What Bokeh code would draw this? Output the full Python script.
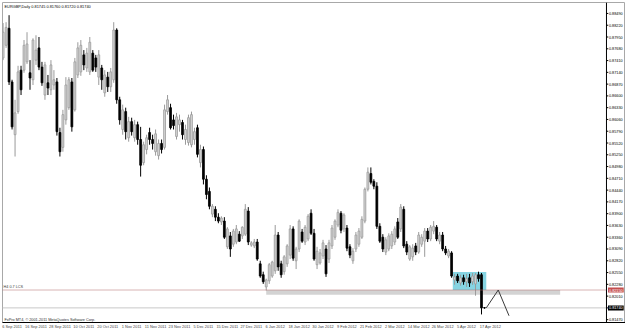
from bokeh.plotting import figure
from bokeh.models import (ColumnDataSource, Range1d, LinearAxis, FixedTicker,
                          Label, BoxAnnotation)
from bokeh.core.properties import value
from bokeh.embed import file_html
from bokeh.resources import INLINE

# EURGBP daily candles, 6 Sep 2011 .. 18 Apr 2012 (bar index 0..161)
OPEN = [0.8747, 0.8776, 0.8815, 0.8692, 0.8571, 0.8624, 0.8719, 0.8719, 0.8738, 0.8713,
        0.8697, 0.8742, 0.8770, 0.8726, 0.8662, 0.8690, 0.8674, 0.8685, 0.8692, 0.8576,
        0.8542, 0.8605, 0.8633, 0.8692, 0.8628, 0.8708, 0.8715, 0.8754, 0.8724, 0.8715,
        0.8758, 0.8747, 0.8703, 0.8724, 0.8667, 0.8703, 0.8681, 0.8697, 0.8811, 0.8651,
        0.8583, 0.8624, 0.8564, 0.8601, 0.8564, 0.8594, 0.8560, 0.8507, 0.8537, 0.8576,
        0.8560, 0.8532, 0.8523, 0.8551, 0.8542, 0.8624, 0.8633, 0.8605, 0.8567, 0.8594,
        0.8599, 0.8560, 0.8553, 0.8548, 0.8560, 0.8587, 0.8507, 0.8537, 0.8469, 0.8441,
        0.8389, 0.8400, 0.8382, 0.8371, 0.8373, 0.8314, 0.8339, 0.8320, 0.8325, 0.8343,
        0.8339, 0.8343, 0.8396, 0.8318, 0.8316, 0.8325, 0.8275, 0.8250, 0.8222, 0.8236,
        0.8247, 0.8259, 0.8341, 0.8275, 0.8257, 0.8275, 0.8295, 0.8355, 0.8282, 0.8309,
        0.8348, 0.8325, 0.8332, 0.8391, 0.8345, 0.8273, 0.8277, 0.8293, 0.8309, 0.8286,
        0.8316, 0.8336, 0.8364, 0.8391, 0.8355, 0.8357, 0.8314, 0.8282, 0.8309, 0.8320,
        0.8336, 0.8373, 0.8446, 0.8482, 0.8464, 0.8453, 0.8361, 0.8336, 0.8302, 0.8309,
        0.8316, 0.8325, 0.8371, 0.8355, 0.8400, 0.8320, 0.8286, 0.8291, 0.8316, 0.8302,
        0.8320, 0.8327, 0.8350, 0.8332, 0.8350, 0.8359, 0.8327, 0.8341, 0.8309, 0.8293,
        0.8300, 0.8238, 0.8247, 0.8231, 0.8243, 0.8234, 0.8243, 0.8234, 0.8229, 0.8250,
        0.8250, 0.81745]
HIGH = [0.8827, 0.8829, 0.8845, 0.8697, 0.8651, 0.8729, 0.8729, 0.8788, 0.8806, 0.8742,
        0.8792, 0.8799, 0.8795, 0.8738, 0.8738, 0.8708, 0.8742, 0.8719, 0.8701, 0.8587,
        0.8628, 0.8703, 0.8703, 0.8701, 0.8747, 0.8783, 0.8788, 0.8765, 0.8770, 0.8795,
        0.8765, 0.8754, 0.8765, 0.8731, 0.8719, 0.8715, 0.8724, 0.8829, 0.8815, 0.8658,
        0.8640, 0.8633, 0.8612, 0.8610, 0.8605, 0.8601, 0.8589, 0.8555, 0.8571, 0.8587,
        0.8571, 0.8583, 0.8560, 0.8560, 0.8640, 0.8662, 0.8642, 0.8617, 0.8621, 0.8617,
        0.8605, 0.8594, 0.8617, 0.8624, 0.8587, 0.8594, 0.8548, 0.8544, 0.8478, 0.8450,
        0.8412, 0.8407, 0.8391, 0.8384, 0.8382, 0.8359, 0.8348, 0.8355, 0.8364, 0.8350,
        0.8361, 0.8412, 0.8405, 0.8327, 0.8332, 0.8332, 0.8282, 0.8257, 0.8241, 0.8277,
        0.8282, 0.8364, 0.8348, 0.8282, 0.8295, 0.8320, 0.8364, 0.8361, 0.8314, 0.8377,
        0.8355, 0.8364, 0.8389, 0.8400, 0.8355, 0.8314, 0.8309, 0.8330, 0.8318, 0.8330,
        0.8364, 0.8377, 0.8400, 0.8396, 0.8391, 0.8364, 0.8320, 0.8311, 0.8348, 0.8357,
        0.8384, 0.8450, 0.8496, 0.8496, 0.8469, 0.8462, 0.8368, 0.8343, 0.8336, 0.8345,
        0.8350, 0.8361, 0.8380, 0.8412, 0.8407, 0.8327, 0.8318, 0.8320, 0.8323, 0.8348,
        0.8343, 0.8357, 0.8357, 0.8364, 0.8373, 0.8364, 0.8348, 0.8348, 0.8316, 0.8309,
        0.8304, 0.8252, 0.8252, 0.8250, 0.8250, 0.8252, 0.8252, 0.8254, 0.8254, 0.8257,
        0.8254, 0.81760]
LOW = [0.8742, 0.8770, 0.8685, 0.8583, 0.8521, 0.8619, 0.8662, 0.8713, 0.8733, 0.8674,
       0.8685, 0.8731, 0.8719, 0.8683, 0.8651, 0.8662, 0.8662, 0.8674, 0.8569, 0.8521,
       0.8532, 0.8594, 0.8628, 0.8578, 0.8624, 0.8701, 0.8706, 0.8719, 0.8715, 0.8708,
       0.8715, 0.8715, 0.8685, 0.8674, 0.8658, 0.8669, 0.8669, 0.8690, 0.8642, 0.8594,
       0.8571, 0.8560, 0.8555, 0.8569, 0.8555, 0.8548, 0.8475, 0.8501, 0.8526, 0.8548,
       0.8537, 0.8523, 0.8514, 0.8528, 0.8537, 0.8617, 0.8583, 0.8583, 0.8560, 0.8578,
       0.8560, 0.8548, 0.8546, 0.8542, 0.8548, 0.8519, 0.8496, 0.8457, 0.8423, 0.8400,
       0.8382, 0.8373, 0.8368, 0.8364, 0.8332, 0.8309, 0.8291, 0.8314, 0.8320, 0.8325,
       0.8332, 0.8339, 0.8318, 0.8314, 0.8311, 0.8282, 0.8243, 0.8229, 0.8214, 0.8229,
       0.8243, 0.8252, 0.8259, 0.8243, 0.8250, 0.8268, 0.8286, 0.8282, 0.8263, 0.8302,
       0.8323, 0.8318, 0.8327, 0.8341, 0.8282, 0.8263, 0.8273, 0.8286, 0.8245, 0.8277,
       0.8309, 0.8330, 0.8359, 0.8345, 0.8348, 0.8304, 0.8288, 0.8275, 0.8302, 0.8314,
       0.8332, 0.8368, 0.8441, 0.8457, 0.8446, 0.8355, 0.8323, 0.8302, 0.8295, 0.8304,
       0.8309, 0.8318, 0.8332, 0.8348, 0.8311, 0.8295, 0.8282, 0.8282, 0.8295, 0.8298,
       0.8314, 0.8291, 0.8325, 0.8327, 0.8343, 0.8327, 0.8320, 0.8304, 0.8295, 0.8288,
       0.8243, 0.8227, 0.8231, 0.8225, 0.8227, 0.8222, 0.8222, 0.8227, 0.8202, 0.8234,
       0.8159, 0.81720]
CLOSE = [0.8806, 0.8817, 0.8692, 0.8589, 0.8621, 0.8715, 0.8674, 0.8776, 0.8779, 0.8701,
         0.8788, 0.8765, 0.8726, 0.8690, 0.8731, 0.8678, 0.8731, 0.8697, 0.8578, 0.8532,
         0.8617, 0.8685, 0.8697, 0.8589, 0.8738, 0.8770, 0.8776, 0.8731, 0.8758, 0.8783,
         0.8719, 0.8726, 0.8754, 0.8697, 0.8708, 0.8681, 0.8715, 0.8811, 0.8651, 0.8605,
         0.8628, 0.8578, 0.8601, 0.8578, 0.8594, 0.8560, 0.8501, 0.8548, 0.8564, 0.8560,
         0.8551, 0.8573, 0.8551, 0.8537, 0.8628, 0.8651, 0.8587, 0.8592, 0.8612, 0.8605,
         0.8571, 0.8583, 0.8610, 0.8617, 0.8578, 0.8526, 0.8537, 0.8469, 0.8434, 0.8407,
         0.8407, 0.8382, 0.8373, 0.8380, 0.8336, 0.8355, 0.8309, 0.8350, 0.8355, 0.8327,
         0.8359, 0.8400, 0.8325, 0.8323, 0.8325, 0.8286, 0.8247, 0.8234, 0.8238, 0.8273,
         0.8279, 0.8341, 0.8268, 0.8250, 0.8291, 0.8316, 0.8355, 0.8288, 0.8309, 0.8373,
         0.8327, 0.8359, 0.8384, 0.8345, 0.8286, 0.8304, 0.8300, 0.8323, 0.8252, 0.8323,
         0.8357, 0.8373, 0.8393, 0.8352, 0.8387, 0.8311, 0.8295, 0.8304, 0.8341, 0.8350,
         0.8377, 0.8446, 0.8485, 0.8462, 0.8453, 0.8361, 0.8327, 0.8309, 0.8330, 0.8339,
         0.8343, 0.8355, 0.8336, 0.8405, 0.8316, 0.8302, 0.8314, 0.8311, 0.8302, 0.8341,
         0.8336, 0.8350, 0.8332, 0.8359, 0.8361, 0.8332, 0.8341, 0.8309, 0.8300, 0.8304,
         0.8247, 0.8245, 0.8236, 0.8243, 0.8234, 0.8241, 0.8231, 0.8247, 0.8250, 0.8241,
         0.8174, 0.81740]

PRICE_TICKS = [0.88490, 0.88220, 0.87950, 0.87680, 0.87410, 0.87140, 0.86870, 0.86600,
               0.86330, 0.86060, 0.85790, 0.85520, 0.85250, 0.84980, 0.84710, 0.84440,
               0.84170, 0.83900, 0.83630, 0.83360, 0.83090, 0.82820, 0.82550, 0.82280,
               0.82010, 0.81740, 0.81470]
DATE_LABELS = ["6 Sep 2011", "16 Sep 2011", "28 Sep 2011", "10 Oct 2011", "20 Oct 2011",
               "1 Nov 2011", "11 Nov 2011", "23 Nov 2011", "5 Dec 2011", "15 Dec 2011",
               "27 Dec 2011", "6 Jan 2012", "18 Jan 2012", "30 Jan 2012", "9 Feb 2012",
               "21 Feb 2012", "2 Mar 2012", "14 Mar 2012", "26 Mar 2012", "5 Apr 2012",
               "17 Apr 2012"]
DATE_BARS = [0, 8, 16, 24, 32, 40, 48, 56, 64, 72, 80, 88, 96, 104, 112, 120, 128, 136, 144, 152, 160]

LEVEL = 0.82150                 # horizontal support line
BAND = (88, 186.3, 0.82150, 0.82040)
BOX = (150.4, 161.6, 0.82560, 0.82150)
ZIG_X = [161.6, 165.6, 169.2]
ZIG_Y = [0.81740, 0.82150, 0.81560]

FONT = "Liberation Sans"
Y0, Y1 = 0.81405, 0.88741
X0, X1 = -0.2, 208.16            # frame covers the price scale strip too
AXIS_X = 201.8                   # where the price scale begins

n = len(CLOSE)
bull = [CLOSE[i] >= OPEN[i] for i in range(n)]
def sub(flag):
    ids = [i for i in range(n) if bull[i] == flag]
    return ColumnDataSource(dict(x=ids, o=[OPEN[i] for i in ids], c=[CLOSE[i] for i in ids],
                                 h=[HIGH[i] for i in ids], l=[LOW[i] for i in ids]))
src_up, src_dn = sub(True), sub(False)

p = figure(width=625, height=331, output_backend="svg", toolbar_location=None,
           x_range=Range1d(X0, X1), y_range=Range1d(Y0, Y1),
           min_border_left=2, min_border_top=2, min_border_right=0, min_border_bottom=7,
           background_fill_color="white", border_fill_color="white")
p.outline_line_color = "#a8a8a8"
p.grid.visible = False
p.yaxis.visible = False
p.xaxis.visible = False

xax = LinearAxis()
xax.ticker = FixedTicker(ticks=[b + 3 for b in DATE_BARS])
xax.major_label_overrides = {b + 3: lab for b, lab in zip(DATE_BARS, DATE_LABELS)}
xax.major_label_text_font_size = "3.9px"
xax.major_label_text_font = FONT
xax.major_tick_out = 0
xax.major_tick_in = 0
xax.minor_tick_out = 0
xax.minor_tick_in = 0
xax.major_label_standoff = 1
xax.axis_line_color = "black"
p.add_layout(xax, "below")

p.add_layout(BoxAnnotation(left=BOX[0], right=BOX[1], top=BOX[2], bottom=BOX[3],
                           fill_color="#86d4e2", fill_alpha=1, line_color=None, level="underlay"))
p.add_layout(BoxAnnotation(left=BAND[0], right=BAND[1], top=BAND[2], bottom=BAND[3],
                           fill_color="#d3d3d3", fill_alpha=1, line_color=None, level="underlay"))
# bid line
p.segment(x0=[X0], y0=[CLOSE[-1]], x1=[AXIS_X], y1=[CLOSE[-1]], line_color="#c8c8c8", line_width=1)

p.segment(x0="x", y0="h", x1="x", y1="l", source=src_up, line_color="#9a9a9a", line_width=1)
p.vbar(x="x", top="c", bottom="o", width=0.62, source=src_up,
       fill_color="#d6d6d6", line_color="#9a9a9a", line_width=0.8)
p.segment(x0="x", y0="h", x1="x", y1="l", source=src_dn, line_color="black", line_width=1)
p.vbar(x="x", top="o", bottom="c", width=0.62, source=src_dn,
       fill_color="black", line_color="black", line_width=0.8)

# support level (dotted) and projected path
p.segment(x0=[X0], y0=[LEVEL], x1=[AXIS_X], y1=[LEVEL], line_color="#b06a6a",
          line_dash="1 1", line_width=1)
p.line(ZIG_X, ZIG_Y, line_color="#3a3a3a", line_width=1)

# price scale: axis line, ticks and labels
p.segment(x0=[AXIS_X], y0=[Y0], x1=[AXIS_X], y1=[Y1], line_color="black", line_width=1)
p.segment(x0=[AXIS_X] * len(PRICE_TICKS), y0=PRICE_TICKS,
          x1=[AXIS_X + 0.6] * len(PRICE_TICKS), y1=PRICE_TICKS, line_color="black", line_width=1)
p.text(x=[AXIS_X + 0.8] * len(PRICE_TICKS), y=PRICE_TICKS,
       text=["%.5f" % t for t in PRICE_TICKS], text_baseline="middle", text_align="left",
       text_font=value(FONT), text_font_size="3.8px", text_color="black")

p.add_layout(Label(x=AXIS_X + 0.5, y=LEVEL, text="%.5f" % LEVEL, text_baseline="middle",
                   text_font_size="3.8px", text_font=FONT, text_color="white",
                   background_fill_color="#c44e4e", padding=1))
p.add_layout(Label(x=AXIS_X + 0.5, y=CLOSE[-1], text="%.5f" % CLOSE[-1], text_baseline="middle",
                   text_font_size="3.8px", text_font=FONT, text_color="white",
                   background_fill_color="black", padding=1))

p.add_layout(Label(x=X0, y=Y1, x_offset=2, y_offset=-6,
                   text="EURGBP,Daily  %.5f %.5f %.5f %.5f" % (OPEN[-1], HIGH[-1], LOW[-1], CLOSE[-1]),
                   text_font_size="3.9px", text_font=FONT, text_color="black"))
p.add_layout(Label(x=X0, y=LEVEL, x_offset=1, y_offset=1, text="H4 0.7 LCS",
                   text_font_size="3.8px", text_font=FONT, text_color="#404040"))
p.add_layout(Label(x=X0, y=Y0, x_offset=2, y_offset=1,
                   text="FxPro MT4, \u00a9 2001-2011 MetaQuotes Software Corp.",
                   text_font_size="3.8px", text_font=FONT, text_color="#303030"))

open("out.html", "w").write(file_html(p, INLINE))
